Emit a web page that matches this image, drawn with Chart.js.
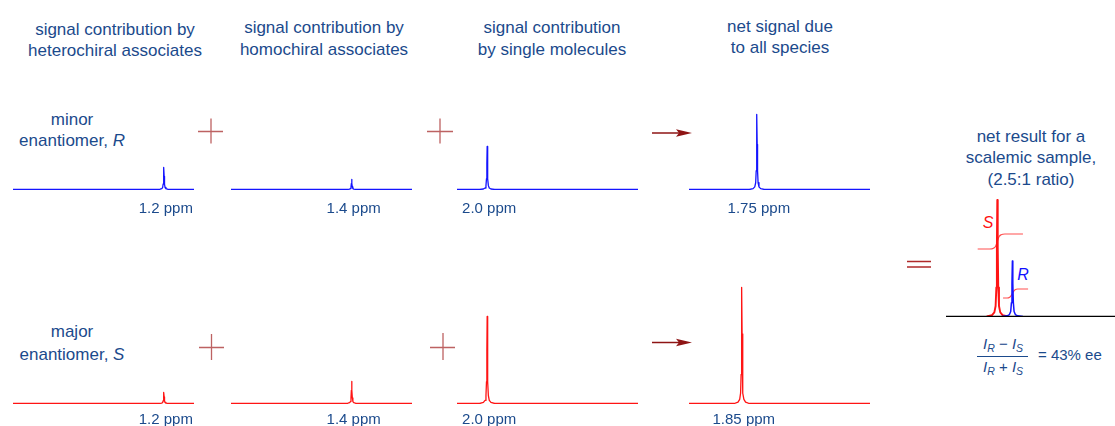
<!DOCTYPE html>
<html>
<head>
<meta charset="utf-8">
<script src="https://cdn.jsdelivr.net/npm/chart.js@4.4.1/dist/chart.umd.min.js"></script>
<style>
  html, body { margin: 0; padding: 0; background: #fff; }
  #stage { position: relative; width: 1115px; height: 426px; overflow: hidden;
           font-family: "Liberation Sans", Arial, sans-serif; color: #1b4a8c; }
  .t { position: absolute; white-space: nowrap; font-size: 17px; line-height: 21.5px;
       text-align: center; transform: translateX(-50%); }
  canvas { position: absolute; }
  svg { position: absolute; left: 0; top: 0; }
  .frac { position: absolute; font-size: 15px; white-space: nowrap; }
  .frac i { font-style: italic; }
  .frac sub { font-size: 10.5px; font-style: italic; vertical-align: -3px; line-height: 0; }
</style>
</head>
<body>
<div id="stage">
  <div class="t" style="left:115px;top:18.5px">signal contribution by<br>heterochiral associates</div>
  <div class="t" style="left:324px;top:17px">signal contribution by<br>homochiral associates</div>
  <div class="t" style="left:552px;top:17px">signal contribution<br>by single molecules</div>
  <div class="t" style="left:780px;top:15.5px">net signal due<br>to all species</div>

  <div class="t" style="left:72px;top:109px;line-height:21px">minor<br>enantiomer, <i>R</i></div>
  <div class="t" style="left:72px;top:321px;line-height:22.5px">major<br>enantiomer, <i>S</i></div>

  <div class="t" style="left:1031px;top:125.5px">net result for a<br>scalemic sample,<br>(2.5:1 ratio)</div>

  <div class="t" style="left:988px;top:212px;color:#ff1010;font-style:italic;font-size:16px">S</div>
  <div class="t" style="left:1023px;top:263.5px;color:#1010ff;font-style:italic;font-size:16px">R</div>

  <div class="frac" style="left:983px;top:335px"><i>I</i><sub>R</sub> &minus; <i>I</i><sub>S</sub></div>
  <div class="frac" style="left:983px;top:358px"><i>I</i><sub>R</sub> + <i>I</i><sub>S</sub></div>
  <div class="frac" style="left:1038px;top:346px">= 43% ee</div>

  <canvas id="r0"></canvas><canvas id="r1"></canvas><canvas id="r2"></canvas><canvas id="r3"></canvas>
  <canvas id="s0"></canvas><canvas id="s1"></canvas><canvas id="s2"></canvas><canvas id="s3"></canvas>
  <canvas id="net"></canvas>

  <svg width="1115" height="426">
    <g stroke="#bd6262" stroke-width="1.3" fill="none">
      <path d="M198 131.5H223M211 118.5V143.5"/>
      <path d="M427 131.5H453M440 118.5V143.5"/>
      <path d="M199 347.5H224M211.5 334V360"/>
      <path d="M430 347.5H455M443 333V360"/>
    </g>
    <g stroke="#8e1414" stroke-width="1.5">
      <path d="M652 133H680"/>
      <path d="M652 342.5H680"/>
    </g>
    <g fill="#8e1414">
      <path d="M676 129.2L692 133L676 136.8L679 133Z"/>
      <path d="M676 338.7L692 342.5L676 346.3L679 342.5Z"/>
    </g>
    <g stroke="#b02a2a" stroke-width="1.4">
      <path d="M907 261.5H931M907 267H931"/>
    </g>
    <path d="M977 356.5H1028" stroke="#1b4a8c" stroke-width="1.1"/>
  </svg>
</div>

<script>
// ---- data -------------------------------------------------------------
// chemical shift (ppm) of each contribution:
// heterochiral associates, homochiral associates, single molecules, all species
const shiftsR = [1.2, 1.4, 2.0, 1.75];   // minor enantiomer, R
const intensR = [22, 10, 43, 75];
const shiftsS = [1.2, 1.4, 2.0, 1.85];   // major enantiomer, S
const intensS = [11, 22, 87, 116];

// net spectrum of the scalemic sample: [S, R]
const netShifts = [1.85, 1.75];
const netIntens = [116.5, 55.5];

// integral traces over the net peaks
const integralS_ppm = [1.98, 1.9, 1.875, 1.862, 1.855, 1.85, 1.845, 1.838, 1.825, 1.8, 1.68];
const integralS_val = [67.5, 67.5, 68.3, 70, 72.5, 75, 77.5, 80, 81.7, 82.5, 82.5];
const integralR_ppm = [1.812, 1.785, 1.768, 1.758, 1.75, 1.742, 1.732, 1.715, 1.646];
const integralR_val = [18.5, 18.5, 19.3, 21, 23, 25, 26.7, 27.5, 27.5];

// ppm window of the spectra (drawn high to low)
const axisRange = [1.0, 2.2];
const netAxisRange = [1.07, 2.19];

// ---- line shape (offset from centre in ppm, fraction of peak height) --
const SHAPE_OFFSETS = [0.05, 0.025, 0.014, 0.008, 0.0045, 0.002, 0];
const SHAPE_LEVELS  = [0, 0.012, 0.035, 0.09, 0.25, 0.6, 1];

// ---- layout ----------------------------------------------------------
const COL_LEFT = [13, 231, 457, 689];
const PANEL_W = 181;
const PAD_X = 10;
const ROW_TOP = [54, 268];
const LABEL_DY = [23, 20.5];
const BLUE = '#1414ff', RED = '#ff1414';

function peakPoints(shift, height, widen) {
  const pts = [];
  for (let i = 0; i < SHAPE_OFFSETS.length; i++)
    pts.push({ x: shift + SHAPE_OFFSETS[i] * widen, y: height * SHAPE_LEVELS[i] });
  for (let i = SHAPE_OFFSETS.length - 2; i >= 0; i--)
    pts.push({ x: shift - SHAPE_OFFSETS[i] * widen, y: height * SHAPE_LEVELS[i] });
  return pts;
}

function spectrumPoints(range, shift, height) {
  return [{ x: range[1], y: 0 }, ...peakPoints(shift, height, 1), { x: range[0], y: 0 }];
}

function shiftText(v) {
  return (Math.round(v * 100) % 10 ? v.toFixed(2) : v.toFixed(1)) + ' ppm';
}

// writes the peak position below the baseline, under the peak
const peakLabel = {
  id: 'peakLabel',
  afterDatasetsDraw(chart, args, opts) {
    if (!opts || opts.shift === undefined) return;
    const ctx = chart.ctx;
    const x = chart.scales.x.getPixelForValue(opts.shift) + 2;
    const y = chart.scales.y.getPixelForValue(0) + opts.dy;
    ctx.save();
    ctx.font = '15px "Liberation Sans", Arial, sans-serif';
    ctx.fillStyle = '#1b4a8c';
    ctx.textAlign = 'center';
    ctx.textBaseline = 'alphabetic';
    ctx.fillText(shiftText(opts.shift), x, y);
    ctx.restore();
  }
};

function baseOptions(range, padX, padBottom) {
  return {
    responsive: false, animation: false, events: [], devicePixelRatio: 1,
    layout: { padding: { left: padX, right: padX, top: 6, bottom: padBottom } },
    scales: {
      x: { type: 'linear', reverse: true, min: range[0], max: range[1], display: false },
      y: { type: 'linear', min: -0.5, max: 129.5, display: false }
    },
    elements: { point: { radius: 0 }, line: { tension: 0, borderCapStyle: 'butt', borderJoinStyle: 'round' } },
    plugins: { legend: { display: false }, tooltip: { enabled: false } }
  };
}

function drawRow(prefix, shifts, intens, color, row) {
  shifts.forEach((s, i) => {
    const cv = document.getElementById(prefix + i);
    cv.width = PANEL_W + 2 * PAD_X;
    cv.height = 6 + 130 + 30;
    cv.style.left = (COL_LEFT[i] - PAD_X) + 'px';
    cv.style.top = ROW_TOP[row] + 'px';
    const opts = baseOptions(axisRange, PAD_X, 30);
    opts.plugins.peakLabel = { shift: s, dy: LABEL_DY[row] };
    new Chart(cv, {
      type: 'line',
      data: { datasets: [{ data: spectrumPoints(axisRange, s, intens[i]),
                           borderColor: color, borderWidth: 1.3, fill: false }] },
      options: opts,
      plugins: [peakLabel]
    });
  });
}

drawRow('r', shiftsR, intensR, BLUE, 0);
drawRow('s', shiftsS, intensS, RED, 1);

// net spectrum of the scalemic sample
(function () {
  const cv = document.getElementById('net');
  cv.width = 169;
  cv.height = 6 + 130 + 4;
  cv.style.left = '946px';
  cv.style.top = '181px';
  const toPts = (xs, ys) => xs.map((x, i) => ({ x, y: ys[i] }));
  new Chart(cv, {
    type: 'line',
    data: {
      datasets: [
        { data: [{ x: netAxisRange[1], y: 0 }, { x: netAxisRange[0], y: 0 }],
          borderColor: '#000', borderWidth: 1.3, order: 0 },
        { data: peakPoints(netShifts[1], netIntens[1], 1.4),
          borderColor: BLUE, borderWidth: 1.5, order: 1 },
        { data: peakPoints(netShifts[0], netIntens[0], 1.4),
          borderColor: RED, borderWidth: 1.9, order: 2 },
        { data: toPts(integralS_ppm, integralS_val), borderColor: '#ff5050',
          borderWidth: 1.2, cubicInterpolationMode: 'monotone', order: 3 },
        { data: toPts(integralR_ppm, integralR_val), borderColor: '#ff5050',
          borderWidth: 1.2, cubicInterpolationMode: 'monotone', order: 3 }
      ]
    },
    options: baseOptions(netAxisRange, 0, 4)
  });
})();
</script>
</body>
</html>
